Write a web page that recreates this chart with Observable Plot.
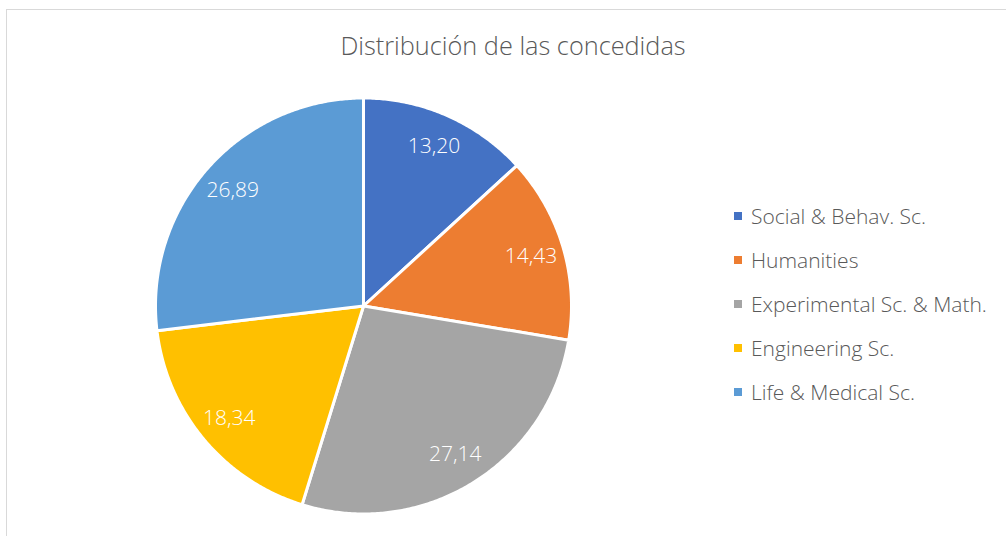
<!DOCTYPE html>
<html>
<head>
<meta charset="utf-8">
<script src="https://cdn.jsdelivr.net/npm/d3@7"></script>
<script src="https://cdn.jsdelivr.net/npm/@observablehq/plot@0.6"></script>
<style>
  html, body { margin: 0; padding: 0; background: #fff; }
  #wrap { position: relative; width: 1006px; height: 536px; overflow: hidden; font-family: "Open Sans", Lato, sans-serif; }
  #frame { position: absolute; left: 6px; top: 9px; width: 1100px; height: 700px; border: 1px solid #d9d9d9; box-sizing: border-box; }
  #title { position: absolute; left: 0; width: 1026px; top: 30px; line-height: 30px; text-align: center; font-size: 25.3px; font-weight: 300; color: #595959; }
  #chart { position: absolute; left: 0; top: 0; }
  #legend { position: absolute; left: 734px; top: 205px; }
  .item { height: 44px; line-height: 22px; display: flex; align-items: flex-start; font-size: 21px; font-weight: 300; color: #595959; white-space: nowrap; }
  .sw { width: 8px; height: 8px; margin-right: 9px; margin-top: 7px; }
</style>
</head>
<body>
<div id="wrap">
  <div id="frame"></div>
  <div id="chart"></div>
  <div id="title">Distribución de las concedidas</div>
  <div id="legend"></div>
</div>
<script>
const categories = ["Social & Behav. Sc.", "Humanities", "Experimental Sc. & Math.", "Engineering Sc.", "Life & Medical Sc."];
const values = [13.20, 14.43, 27.14, 18.34, 26.89];
const labels = ["13,20", "14,43", "27,14", "18,34", "26,89"];
const colors = ["#4472C4", "#ED7D31", "#A5A5A5", "#FFC000", "#5B9BD5"];

const total = d3.sum(values);
// slice geometry in unit-circle coordinates (angle clockwise from top, y downward)
const slices = [];
let acc = 0;
values.forEach((v, i) => {
  const a0 = acc / total * 2 * Math.PI;
  acc += v;
  const a1 = acc / total * 2 * Math.PI;
  slices.push({cat: categories[i], value: v, label: labels[i], a0, a1});
});
const pts = [];
for (const s of slices) {
  pts.push({cat: s.cat, x: 0, y: 0});
  const n = Math.max(2, Math.ceil((s.a1 - s.a0) / (Math.PI / 360)));
  for (let k = 0; k <= n; k++) {
    const a = s.a0 + (s.a1 - s.a0) * k / n;
    pts.push({cat: s.cat, x: Math.sin(a), y: -Math.cos(a)});
  }
  pts.push({cat: s.cat, x: 0, y: 0});
}
const lr = 0.84;
const labelPts = slices.map(s => {
  const m = (s.a0 + s.a1) / 2;
  return {label: s.label, x: lr * Math.sin(m), y: -lr * Math.cos(m)};
});

const W = 1006, H = 536, cx = 363, cy = 305.5, R = 208;
const chart = Plot.plot({
  width: W, height: H,
  margin: 0,
  x: {domain: [-cx / R, (W - cx) / R], range: [0, W], axis: null},
  y: {domain: [-cy / R, (H - cy) / R], range: [0, H], axis: null},
  color: {domain: categories, range: colors},
  style: {background: "transparent", overflow: "visible"},
  marks: [
    Plot.line(pts, {x: "x", y: "y", z: "cat", fill: "cat", stroke: "white", strokeWidth: 3, strokeLinejoin: "round", curve: "linear"}),
    Plot.text(labelPts, {x: "x", y: "y", text: "label", fill: "white", fontSize: 21, fontWeight: 300, fontFamily: "'Open Sans', Lato, sans-serif"})
  ]
});
document.getElementById("chart").appendChild(chart);

const legend = document.getElementById("legend");
categories.forEach((c, i) => {
  const it = document.createElement("div");
  it.className = "item";
  const sw = document.createElement("div");
  sw.className = "sw";
  sw.style.background = colors[i];
  const t = document.createElement("span");
  t.textContent = c;
  it.appendChild(sw);
  it.appendChild(t);
  legend.appendChild(it);
});
</script>
</body>
</html>
